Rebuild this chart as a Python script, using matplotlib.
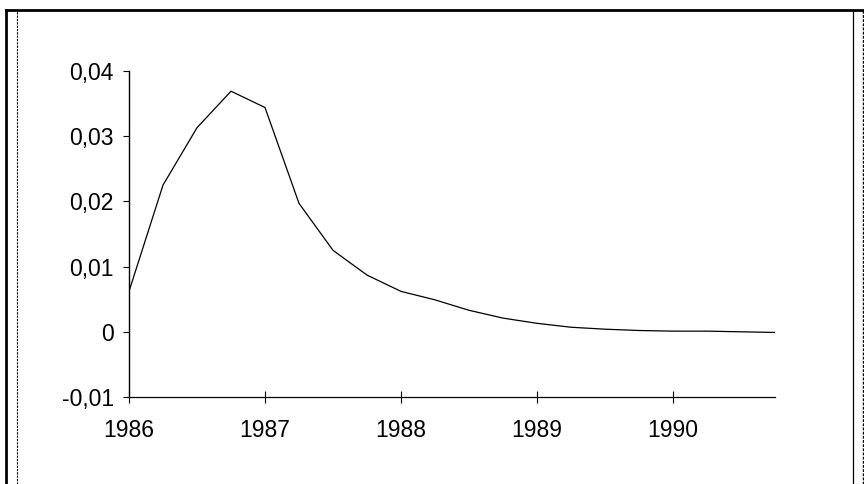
import matplotlib
matplotlib.use("Agg")
import matplotlib.pyplot as plt
from matplotlib.lines import Line2D
from matplotlib.ticker import FuncFormatter

# ── DATA (quarterly) ─────────────────────────────────────────────────────────
quarters = [1986.0, 1986.25, 1986.5, 1986.75,
            1987.0, 1987.25, 1987.5, 1987.75,
            1988.0, 1988.25, 1988.5, 1988.75,
            1989.0, 1989.25, 1989.5, 1989.75,
            1990.0, 1990.25, 1990.5, 1990.75]
values = [0.0062, 0.0225, 0.0313, 0.0369,
          0.0344, 0.0197, 0.0125, 0.0087,
          0.0062, 0.0049, 0.0033, 0.0021,
          0.0013, 0.0007, 0.0004, 0.0002,
          0.0001, 0.0001, 0.0000, -0.0001]
year_ticks = [1986, 1987, 1988, 1989, 1990]
y_ticks = [-0.01, 0.0, 0.01, 0.02, 0.03, 0.04]

plt.rcParams['font.family'] = ['Liberation Sans', 'DejaVu Sans']

fig = plt.figure(figsize=(8.64, 4.84), dpi=100)
ax = fig.add_axes([129 / 864, 1 - 397 / 484, 646 / 864, 326 / 484])

ax.plot(quarters, values, color='black', linewidth=0.9)

ax.set_xlim(1986, 1990.75)
ax.set_ylim(-0.01, 0.04)
ax.set_xticks(year_ticks)
ax.set_yticks(y_ticks)


def comma(v, pos):
    if abs(v) < 1e-9:
        return "0"
    return f"{v:.2f}".replace(".", ",")


ax.yaxis.set_major_formatter(FuncFormatter(comma))
ax.xaxis.set_major_formatter(FuncFormatter(lambda v, p: f"{int(round(v))}"))

ax.spines['top'].set_visible(False)
ax.spines['right'].set_visible(False)
ax.spines['left'].set_linewidth(1.0)
ax.spines['bottom'].set_linewidth(0.9)
ax.spines['bottom'].set_linestyle((0, (3, 1)))

ax.tick_params(axis='y', direction='out', length=4, width=0.8, pad=7,
               labelsize=16.5)
ax.tick_params(axis='x', direction='inout', length=9, width=0.8, pad=11,
               labelsize=16.5)

# frame of the scanned page
fig.add_artist(Line2D([6 / 864, 6 / 864], [0, 1 - 10 / 484], color='black', lw=2.0))
fig.add_artist(Line2D([17 / 864, 17 / 864], [0, 1 - 10 / 484], color='black', lw=0.8,
                      linestyle=(0, (2, 1))))
fig.add_artist(Line2D([6 / 864, 1], [1 - 10 / 484, 1 - 10 / 484], color='black', lw=2.0))
fig.add_artist(Line2D([853 / 864, 853 / 864], [0, 1 - 10 / 484], color='black', lw=0.9))
fig.add_artist(Line2D([863 / 864, 863 / 864], [0, 1 - 10 / 484], color='black', lw=1.0,
                      linestyle=(0, (2, 1))))

fig.savefig("out.png", dpi=100)
